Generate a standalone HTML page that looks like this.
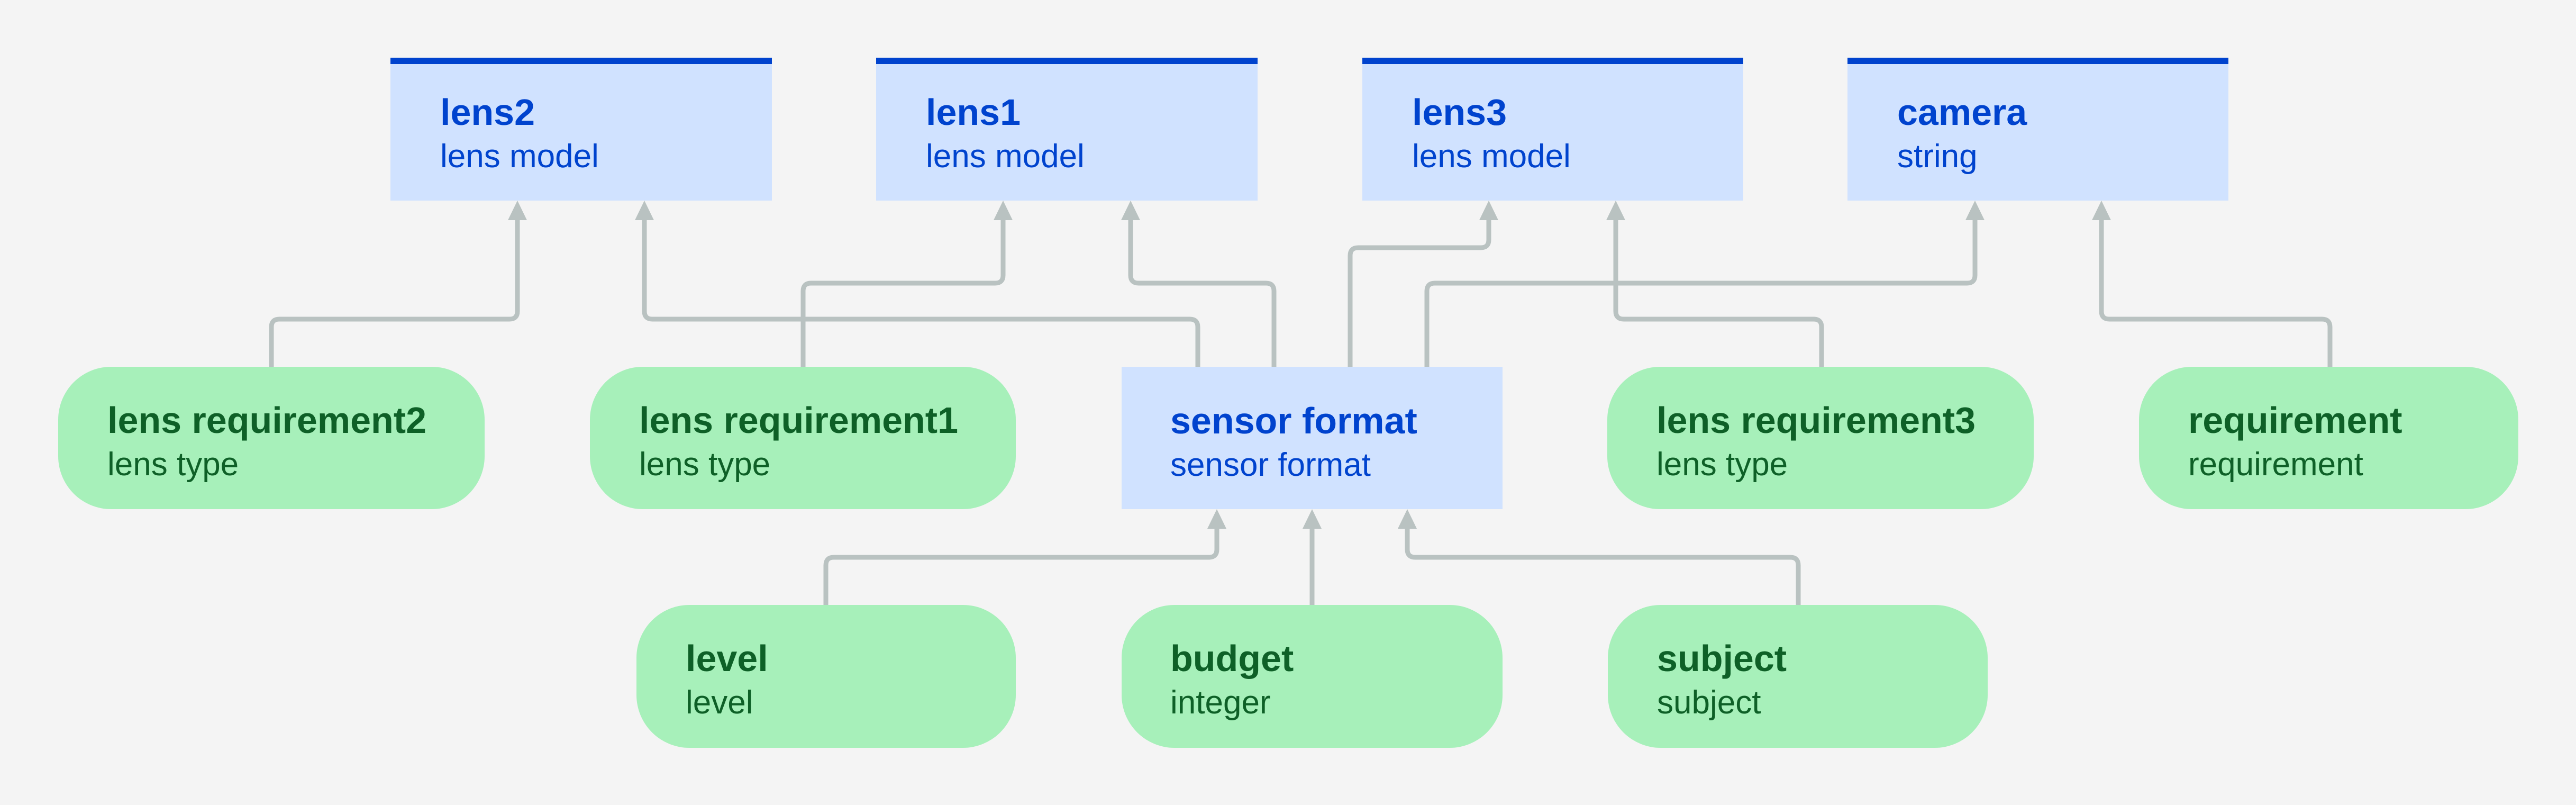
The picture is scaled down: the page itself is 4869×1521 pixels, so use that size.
<!DOCTYPE html>
<html><head><meta charset="utf-8"><style>
html,body{margin:0;padding:0;background:#f4f4f4;}
svg{display:block;}
.t{font-family:"Liberation Sans",sans-serif;font-weight:bold;font-size:70px;}
.s{font-family:"Liberation Sans",sans-serif;font-size:62px;}
.b{fill:#0043ce;} .g{fill:#0e6027;}
</style></head><body>
<svg width="4869" height="1521" viewBox="0 0 4869 1521" xmlns="http://www.w3.org/2000/svg">
<rect width="4869" height="1521" fill="#f4f4f4"/>
<g fill="none" stroke="#b9c2c1" stroke-width="9" stroke-linejoin="round">
<path d="M513 693 V618 Q513 603 528 603 H963 Q978 603 978 588 V414"/>
<path d="M2264 693 V618 Q2264 603 2249 603 H1233 Q1218 603 1218 588 V414"/>
<path d="M1518 693 V550 Q1518 535 1533 535 H1881 Q1896 535 1896 520 V414"/>
<path d="M2408 693 V550 Q2408 535 2393 535 H2152 Q2137 535 2137 520 V414"/>
<path d="M2552 693 V483 Q2552 468 2567 468 H2799 Q2814 468 2814 453 V414"/>
<path d="M2697 693 V550 Q2697 535 2712 535 H3718 Q3733 535 3733 520 V414"/>
<path d="M3443 693 V618 Q3443 603 3428 603 H3069 Q3054 603 3054 588 V414"/>
<path d="M4404 693 V618 Q4404 603 4389 603 H3987 Q3972 603 3972 588 V414"/>
<path d="M1561 1143 V1068 Q1561 1053 1576 1053 H2285 Q2300 1053 2300 1038 V997"/>
<path d="M2480 1143 V997"/>
<path d="M3399 1143 V1068 Q3399 1053 3384 1053 H2675 Q2660 1053 2660 1038 V997"/>
</g>
<g fill="#b9c2c1">
<path d="M978 379 L996 416 L960 416Z"/><path d="M1218 379 L1236 416 L1200 416Z"/>
<path d="M1896 379 L1914 416 L1878 416Z"/><path d="M2137 379 L2155 416 L2119 416Z"/>
<path d="M2814 379 L2832 416 L2796 416Z"/><path d="M3054 379 L3072 416 L3036 416Z"/>
<path d="M3733 379 L3751 416 L3715 416Z"/><path d="M3972 379 L3990 416 L3954 416Z"/>
<path d="M2300 962 L2318 999 L2282 999Z"/><path d="M2480 962 L2498 999 L2462 999Z"/><path d="M2660 962 L2678 999 L2642 999Z"/>
</g>
<g>
<rect x="738" y="109" width="721" height="270" fill="#d0e2ff"/><rect x="738" y="109" width="721" height="12" fill="#0043ce"/>
<text x="832" y="236" class="t b">lens2</text><text x="832" y="316" class="s b">lens model</text>
<rect x="1656" y="109" width="721" height="270" fill="#d0e2ff"/><rect x="1656" y="109" width="721" height="12" fill="#0043ce"/>
<text x="1750" y="236" class="t b">lens1</text><text x="1750" y="316" class="s b">lens model</text>
<rect x="2575" y="109" width="720" height="270" fill="#d0e2ff"/><rect x="2575" y="109" width="720" height="12" fill="#0043ce"/>
<text x="2669" y="236" class="t b">lens3</text><text x="2669" y="316" class="s b">lens model</text>
<rect x="3492" y="109" width="720" height="270" fill="#d0e2ff"/><rect x="3492" y="109" width="720" height="12" fill="#0043ce"/>
<text x="3586" y="236" class="t b">camera</text><text x="3586" y="316" class="s b">string</text>
</g>
<rect x="110" y="693" width="806" height="269" rx="100" fill="#a7f0ba"/>
<text x="203" y="818" class="t g">lens requirement2</text><text x="203" y="898" class="s g">lens type</text>
<rect x="1115" y="693" width="805" height="269" rx="100" fill="#a7f0ba"/>
<text x="1208" y="818" class="t g">lens requirement1</text><text x="1208" y="898" class="s g">lens type</text>
<rect x="2120" y="693" width="720" height="269" fill="#d0e2ff"/>
<text x="2212" y="819" class="t b">sensor format</text><text x="2212" y="899" class="s b">sensor format</text>
<rect x="3038" y="693" width="806" height="269" rx="100" fill="#a7f0ba"/>
<text x="3131" y="818" class="t g">lens requirement3</text><text x="3131" y="898" class="s g">lens type</text>
<rect x="4043" y="693" width="717" height="269" rx="100" fill="#a7f0ba"/>
<text x="4136" y="818" class="t g">requirement</text><text x="4136" y="898" class="s g">requirement</text>
<rect x="1203" y="1143" width="717" height="270" rx="100" fill="#a7f0ba"/>
<text x="1296" y="1268" class="t g">level</text><text x="1296" y="1348" class="s g">level</text>
<rect x="2120" y="1143" width="720" height="270" rx="100" fill="#a7f0ba"/>
<text x="2212" y="1268" class="t g">budget</text><text x="2212" y="1348" class="s g">integer</text>
<rect x="3039" y="1143" width="718" height="270" rx="100" fill="#a7f0ba"/>
<text x="3132" y="1268" class="t g">subject</text><text x="3132" y="1348" class="s g">subject</text>
</svg>
</body></html>
